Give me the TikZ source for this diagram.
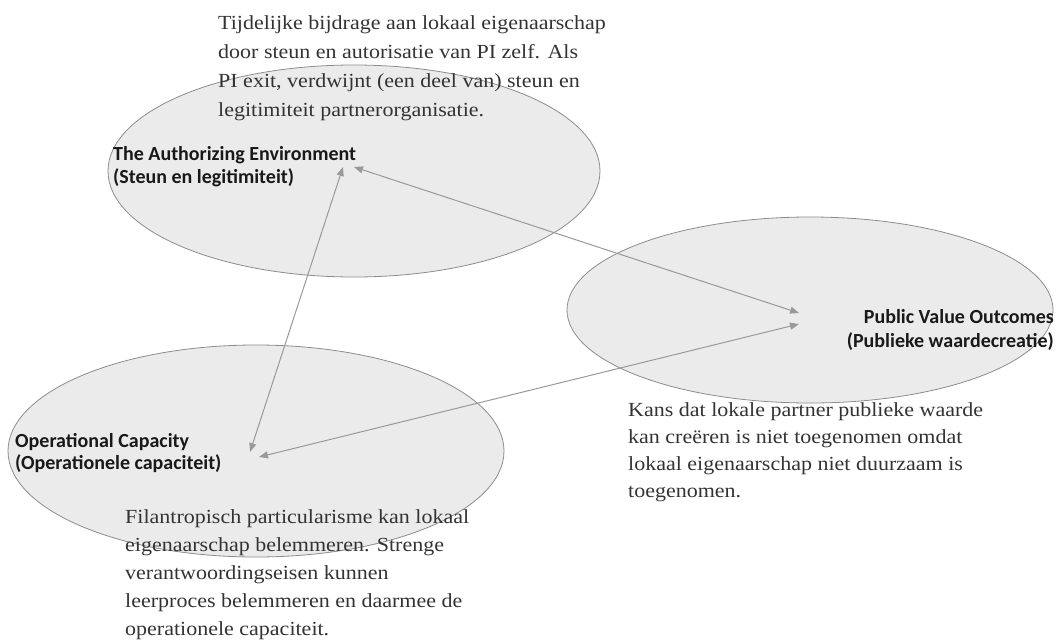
\documentclass[tikz,border=0pt]{standalone}
\usepackage{fontspec}
\setmainfont{Liberation Serif}[FakeStretch=1.1]
\newfontfamily\labelfont{Carlito}
\usetikzlibrary{arrows.meta, shapes.geometric, positioning}

\begin{document}
\begin{tikzpicture}[x=1pt, y=-1pt,
    bubble/.style={ellipse, draw=black!45, fill=black!8, line width=0.8pt, inner sep=0pt},
    title/.style={font=\labelfont\bfseries\fontsize{20}{23}\selectfont, inner sep=0pt, text=black!90},
    note/.style={align=left, inner sep=0pt, anchor=north west, text=black!80},
    link/.style={draw=black!40, line width=1pt, {Triangle[length=9pt, width=7pt]}-{Triangle[length=9pt, width=7pt]}}]
    \useasboundingbox (0, 0) rectangle (1056, 642);
    \node[bubble, minimum width=492, minimum height=212] (auth) at (354, 171) {};
    \node[bubble, minimum width=486, minimum height=186] (pvo) at (810, 310) {};
    \node[bubble, minimum width=496, minimum height=212] (ops) at (256, 451) {};
    \node[title, anchor=north west, align=left] (authlabel) at (113, 146) {The Authorizing Environment\\(Steun en legitimiteit)};
    \node[title, anchor=north east, align=right, font=\labelfont\bfseries\fontsize{20}{24}\selectfont] (pvolabel) at (1054, 309) {Public Value Outcomes\\(Publieke waardecreatie)};
    \node[title, anchor=north west, align=left, font=\labelfont\bfseries\fontsize{20}{22}\selectfont] (opslabel) at (15, 433) {Operational Capacity\\(Operationele capaciteit)};
    \node[note, font=\fontsize{20}{29}\selectfont] (authnote) at (218, 15) {Tijdelijke bijdrage aan lokaal eigenaarschap\\door steun en autorisatie van PI zelf. Als\\PI exit, verdwijnt (een deel van) steun en\\legitimiteit partnerorganisatie.};
    \node[note, font=\fontsize{20}{27}\selectfont] (pvonote) at (628, 402) {Kans dat lokale partner publieke waarde\\kan creëren is niet toegenomen omdat\\lokaal eigenaarschap niet duurzaam is\\toegenomen.};
    \node[note, font=\fontsize{20}{28}\selectfont] (opsnote) at (125, 509) {Filantropisch particularisme kan lokaal\\eigenaarschap belemmeren. Strenge\\verantwoordingseisen kunnen\\leerproces belemmeren en daarmee de\\operationele capaciteit.};
    \coordinate (a1) at (343, 167);
    \coordinate (a2) at (354, 167);
    \coordinate (p1) at (799, 313);
    \coordinate (p2) at (799, 324);
    \coordinate (o1) at (250, 452);
    \coordinate (o2) at (259, 457);
    \draw[link] (a1) -- (o1);
    \draw[link] (a2) -- (p1);
    \draw[link] (o2) -- (p2);
\end{tikzpicture}
\end{document}
